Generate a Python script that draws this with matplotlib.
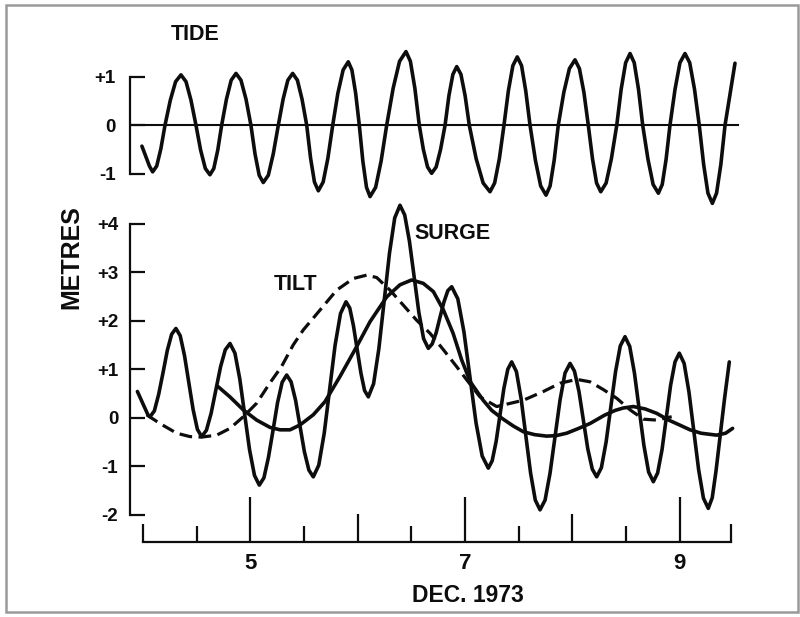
import matplotlib
matplotlib.use("Agg")
import matplotlib.pyplot as plt
from matplotlib.patches import Rectangle

plt.rcParams['font.family'] = ['Liberation Sans', 'DejaVu Sans']
plt.rcParams['font.weight'] = 'bold'

# ---------------- data (day of December 1973, metres) ----------------
tide_points = [
    (3.99, -0.43), (4.06, -0.84), (4.09, -0.96), (4.128, -0.84), (4.167, -0.48), (4.205, 0.0),
    (4.255, 0.52), (4.304, 0.90), (4.354, 1.04), (4.401, 0.90), (4.447, 0.52), (4.494, 0.0),
    (4.537, -0.51), (4.581, -0.89), (4.624, -1.02), (4.660, -0.89), (4.697, -0.51), (4.733, 0.0),
    (4.778, 0.54), (4.822, 0.93), (4.867, 1.07), (4.913, 0.93), (4.960, 0.54), (5.006, 0.0),
    (5.044, -0.59), (5.083, -1.03), (5.121, -1.18), (5.168, -1.03), (5.214, -0.59), (5.261, 0.0),
    (5.306, 0.54), (5.350, 0.93), (5.395, 1.07), (5.439, 0.93), (5.482, 0.54), (5.526, 0.0),
    (5.562, -0.68), (5.598, -1.17), (5.634, -1.35), (5.679, -1.17), (5.723, -0.68), (5.768, 0.0),
    (5.816, 0.66), (5.865, 1.14), (5.913, 1.31), (5.947, 1.14), (5.982, 0.66), (6.016, 0.0),
    (6.049, -0.74), (6.083, -1.28), (6.116, -1.47), (6.168, -1.28), (6.219, -0.74), (6.271, 0.0),
    (6.331, 0.76), (6.391, 1.32), (6.451, 1.52), (6.492, 1.32), (6.534, 0.76), (6.575, 0.0),
    (6.613, -0.50), (6.652, -0.86), (6.690, -0.99), (6.732, -0.86), (6.773, -0.50), (6.815, 0.0),
    (6.851, 0.61), (6.888, 1.05), (6.924, 1.21), (6.963, 1.05), (7.002, 0.61), (7.041, 0.0),
    (7.105, -0.69), (7.170, -1.19), (7.234, -1.37), (7.277, -1.19), (7.321, -0.69), (7.364, 0.0),
    (7.405, 0.71), (7.447, 1.23), (7.488, 1.41), (7.528, 1.23), (7.567, 0.71), (7.607, 0.0),
    (7.657, -0.72), (7.706, -1.25), (7.756, -1.44), (7.794, -1.25), (7.832, -0.72), (7.870, 0.0),
    (7.922, 0.68), (7.974, 1.17), (8.026, 1.35), (8.067, 1.17), (8.109, 0.68), (8.150, 0.0),
    (8.189, -0.69), (8.227, -1.19), (8.266, -1.37), (8.316, -1.19), (8.365, -0.69), (8.415, 0.0),
    (8.456, 0.74), (8.498, 1.29), (8.539, 1.48), (8.578, 1.29), (8.618, 0.74), (8.657, 0.0),
    (8.706, -0.70), (8.754, -1.22), (8.803, -1.40), (8.839, -1.22), (8.875, -0.70), (8.911, 0.0),
    (8.958, 0.74), (9.004, 1.29), (9.051, 1.48), (9.095, 1.29), (9.140, 0.74), (9.184, 0.0),
    (9.225, -0.81), (9.265, -1.40), (9.306, -1.61), (9.345, -1.40), (9.385, -0.81), (9.424, 0.0),
    (9.517, 1.28),
]

surge_points = [
    (3.948, 0.54), (4.046, 0.06), (4.066, 0.02),
    (4.106, 0.14), (4.146, 0.48), (4.187, 0.93), (4.227, 1.39), (4.267, 1.72), (4.307, 1.84),
    (4.347, 1.69), (4.387, 1.28), (4.427, 0.73), (4.467, 0.17), (4.507, -0.24), (4.547, -0.39),
    (4.591, -0.26), (4.635, 0.09), (4.679, 0.57), (4.723, 1.05), (4.767, 1.40), (4.811, 1.53),
    (4.857, 1.33), (4.902, 0.80), (4.948, 0.07), (4.993, -0.66), (5.039, -1.19), (5.084, -1.39),
    (5.127, -1.24), (5.169, -0.82), (5.212, -0.26), (5.254, 0.31), (5.297, 0.73), (5.339, 0.88),
    (5.380, 0.74), (5.422, 0.36), (5.463, -0.17), (5.504, -0.70), (5.546, -1.08), (5.587, -1.22),
    (5.638, -0.98), (5.689, -0.32), (5.740, 0.59), (5.790, 1.49), (5.841, 2.15), (5.892, 2.39),
    (5.927, 2.26), (5.961, 1.90), (5.996, 1.41), (6.031, 0.92), (6.065, 0.56), (6.100, 0.43),
    (6.149, 0.70), (6.198, 1.42), (6.248, 2.41), (6.297, 3.39), (6.346, 4.12), (6.395, 4.38),
    (6.439, 4.18), (6.483, 3.64), (6.527, 2.91), (6.571, 2.17), (6.615, 1.63), (6.659, 1.43),
    (6.695, 1.52), (6.732, 1.75), (6.768, 2.07), (6.804, 2.38), (6.841, 2.62), (6.877, 2.70),
    (6.934, 2.45), (6.991, 1.77), (7.048, 0.83), (7.104, -0.11), (7.161, -0.79), (7.218, -1.04),
    (7.254, -0.89), (7.291, -0.49), (7.327, 0.06), (7.363, 0.60), (7.400, 1.00), (7.436, 1.15),
    (7.480, 0.95), (7.524, 0.39), (7.568, -0.38), (7.612, -1.14), (7.656, -1.70), (7.700, -1.90),
    (7.747, -1.70), (7.793, -1.15), (7.840, -0.39), (7.887, 0.37), (7.933, 0.92), (7.980, 1.12),
    (8.021, 0.96), (8.063, 0.54), (8.104, -0.05), (8.145, -0.64), (8.187, -1.06), (8.228, -1.22),
    (8.272, -1.03), (8.316, -0.50), (8.360, 0.23), (8.404, 0.95), (8.448, 1.48), (8.492, 1.67),
    (8.536, 1.47), (8.580, 0.92), (8.624, 0.18), (8.668, -0.57), (8.712, -1.12), (8.756, -1.32),
    (8.796, -1.14), (8.837, -0.66), (8.877, 0.01), (8.917, 0.67), (8.958, 1.15), (8.998, 1.33),
    (9.043, 1.12), (9.088, 0.53), (9.133, -0.27), (9.178, -1.07), (9.223, -1.66), (9.268, -1.87),
    (9.305, -1.65), (9.340, -1.10), (9.380, -0.35), (9.420, 0.40), (9.464, 1.15),
]

tilt_day = [4.034, 4.158, 4.314, 4.438, 4.547, 4.687, 4.811, 4.935, 5.060, 5.184,
            5.290, 5.400, 5.494, 5.650, 5.805, 5.960, 6.085, 6.178, 6.302, 6.426,
            6.550, 6.675, 6.800, 6.924, 7.017, 7.140, 7.296, 7.545, 7.731, 7.886,
            8.042, 8.166, 8.290, 8.415, 8.540, 8.663, 8.787, 8.927]
tilt_m = [0.06, -0.12, -0.32, -0.39, -0.40, -0.36, -0.22, 0.02, 0.30, 0.72,
          1.05, 1.50, 1.81, 2.22, 2.63, 2.87, 2.94, 2.89, 2.63, 2.32,
          2.01, 1.74, 1.40, 1.05, 0.78, 0.43, 0.23, 0.36, 0.54, 0.71,
          0.79, 0.74, 0.58, 0.40, 0.16, -0.03, -0.05, 0.02]

resid_day = [4.700, 4.810, 4.935, 5.060, 5.184, 5.277, 5.370, 5.463, 5.587, 5.696,
             5.836, 5.990, 6.116, 6.271, 6.395, 6.504, 6.612, 6.706, 6.800, 6.890,
             6.970, 7.050, 7.170, 7.250, 7.350, 7.450, 7.545, 7.650, 7.762, 7.850,
             7.948, 8.050, 8.166, 8.300, 8.400, 8.476, 8.570, 8.680, 8.787, 8.900,
             9.000, 9.098, 9.200, 9.346, 9.430, 9.495]
resid_m = [0.64, 0.43, 0.16, -0.05, -0.20, -0.25, -0.25, -0.15, 0.06, 0.33,
           0.85, 1.46, 1.98, 2.49, 2.74, 2.84, 2.77, 2.60, 2.22, 1.74,
           1.19, 0.74, 0.36, 0.15, -0.02, -0.17, -0.29, -0.35, -0.38, -0.37,
           -0.32, -0.23, -0.12, 0.05, 0.15, 0.20, 0.23, 0.18, 0.09, -0.05,
           -0.15, -0.25, -0.32, -0.36, -0.32, -0.22]

tide_day = [p[0] for p in tide_points]
tide_m = [p[1] for p in tide_points]
surge_day = [p[0] for p in surge_points]
surge_m = [p[1] for p in surge_points]

x_major = [5, 7, 9]
x_major_labels = ['5', '7', '9']
x_mid = [6, 8]
x_minor = [4.5, 5.5, 6.5, 7.5, 8.5]
x_ends = [4.0, 9.48]
y_ticks = [-2, -1, 0, 1, 2, 3, 4]
y_labels = ['-2', '-1', '0', '+1', '+2', '+3', '+4']
tide_ticks = [-1, 0, 1]
tide_labels = ['-1', '0', '+1']

# ---------------- layout ----------------
W, H = 800, 617
fig = plt.figure(figsize=(W / 100, H / 100), dpi=100)
fig.patch.set_facecolor('white')


def box(l, r, b, t):
    return [l / W, 1 - b / H, (r - l) / W, (b - t) / H]


XL = (3.879, 9.6)
LW_AX = 1.6
LW_CURVE = 2.6
INK = '#0d0d0d'

ax = fig.add_axes(box(130, 743.9, 541.7, 194.6))
ax.set_xlim(XL)
ax.set_ylim(-2.557, 4.6)
axt = fig.add_axes(box(130, 743.9, 212.6, 38.0))
axt.set_xlim(XL)
axt.set_ylim(-1.8, 1.8)

for a in (ax, axt):
    a.patch.set_alpha(0)
    a.spines['top'].set_visible(False)
    a.spines['right'].set_visible(False)
    for s in a.spines.values():
        s.set_linewidth(LW_AX)
        s.set_color(INK)

# bottom panel axes
ax.spines['left'].set_bounds(-2, 4)
ax.spines['bottom'].set_bounds(x_ends[0], x_ends[1])
ax.set_yticks(y_ticks)
ax.set_yticklabels(y_labels, fontweight='bold')
ax.tick_params(axis='y', direction='in', length=10.8, width=LW_AX, pad=8.5,
               labelsize=13.5, color=INK, labelcolor=INK)
ax.set_xticks(x_major)
ax.set_xticklabels(x_major_labels, fontweight='bold')
ax.tick_params(axis='x', which='major', direction='in', length=32.4, width=LW_AX,
               pad=8, labelsize=16, color=INK, labelcolor=INK)
ax.set_xticks(x_minor, minor=True)
ax.tick_params(axis='x', which='minor', direction='in', length=11.5, width=LW_AX, color=INK)

sec = ax.secondary_xaxis(0)
sec.set_xticks(x_mid, labels=['' for _ in x_mid])
sec.tick_params(direction='in', length=20, width=LW_AX, color=INK)
sec.spines['bottom'].set_visible(False)

sec2 = ax.secondary_xaxis(0)
sec2.set_xticks(x_ends, labels=['' for _ in x_ends])
sec2.tick_params(direction='in', length=13, width=LW_AX, color=INK)
sec2.spines['bottom'].set_visible(False)

# top panel axes
axt.spines['bottom'].set_visible(False)
axt.spines['left'].set_bounds(-1, 1)
axt.set_xticks([])
axt.set_yticks(tide_ticks)
axt.set_yticklabels(tide_labels, fontweight='bold')
axt.tick_params(axis='y', direction='in', length=10.8, width=LW_AX, pad=10.5,
                labelsize=13.5, color=INK, labelcolor=INK)
zero_end = 9.545
axt.axhline(0, xmin=0, xmax=(zero_end - XL[0]) / (XL[1] - XL[0]), color=INK, lw=1.5)

# ---------------- curves ----------------
style = dict(color=INK, lw=LW_CURVE, solid_joinstyle='round', solid_capstyle='round')
axt.plot(tide_day, tide_m, **style)
ax.plot(surge_day, surge_m, **style)
ax.plot(resid_day, resid_m, **style)
ax.plot(tilt_day, tilt_m, color=INK, lw=2.3, linestyle=(0, (4.0, 2.0)),
        dash_capstyle='butt')

# ---------------- text ----------------
fig.text(195 / W, 1 - 35 / H, 'TIDE', ha='center', va='center', fontsize=15.5,
         fontweight='bold', color=INK)
ax.text(6.889, 3.79, 'SURGE', ha='center', va='center', fontsize=15.5,
        fontweight='bold', color=INK)
ax.text(5.426, 2.75, 'TILT', ha='center', va='center', fontsize=15.5,
        fontweight='bold', color=INK)
fig.text(71 / W, 1 - 257.5 / H, 'METRES', rotation=90, ha='center', va='center',
         fontsize=18, fontweight='bold', color=INK)
fig.text(468 / W, 1 - 596 / H, 'DEC. 1973', ha='center', va='center', fontsize=16.5,
         fontweight='bold', color=INK)

# scan frame
fig.add_artist(Rectangle((6 / W, 1 - 612 / H), (798 - 6) / W, (612 - 5) / H,
                         transform=fig.transFigure, fill=False, ec='#9a9a9a', lw=1.8))

fig.savefig('out.png', dpi=100)
